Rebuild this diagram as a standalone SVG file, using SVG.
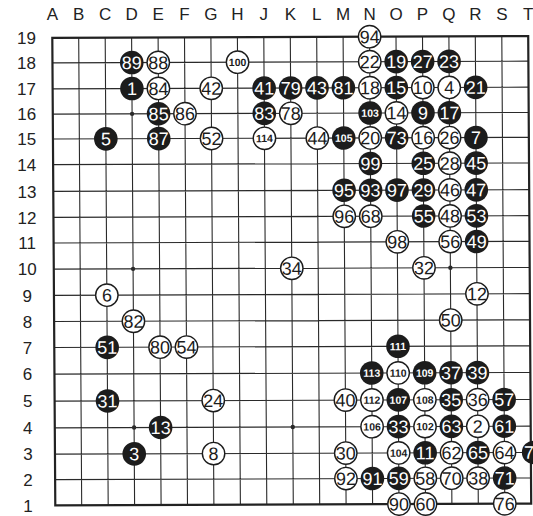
<svg xmlns="http://www.w3.org/2000/svg" width="533" height="516" viewBox="0 0 533 516">
<style>
text{font-family:"Liberation Sans",Arial,Helvetica,sans-serif}
.lbl{font-size:17px;fill:#222;text-anchor:middle}
.grid{stroke:#2a2a2a;stroke-width:1.1;fill:none}
.border{stroke:#222;stroke-width:2.2;fill:none}
.star{fill:#2a2a2a}
.b use{fill:#1c1c1c}
.b text{fill:#fff}
.w use{fill:#fff;stroke:#1c1c1c;stroke-width:1.4}
.w text{fill:#1c1c1c}
.n{font-size:18px;text-anchor:middle}
.n3{font-size:10.5px;font-weight:bold;text-anchor:middle}
</style>
<defs>
<circle id="bs" r="11.8"/>
<circle id="ws" r="11.2"/>
</defs>
<rect width="533" height="516" fill="#fff"/>
<g id="col-labels">
<text class="lbl" x="52.3" y="19.8">A</text>
<text class="lbl" x="78.7" y="19.8">B</text>
<text class="lbl" x="105.2" y="19.8">C</text>
<text class="lbl" x="131.6" y="19.8">D</text>
<text class="lbl" x="158.1" y="19.8">E</text>
<text class="lbl" x="184.5" y="19.8">F</text>
<text class="lbl" x="210.9" y="19.8">G</text>
<text class="lbl" x="237.4" y="19.8">H</text>
<text class="lbl" x="263.8" y="19.8">J</text>
<text class="lbl" x="290.3" y="19.8">K</text>
<text class="lbl" x="316.7" y="19.8">L</text>
<text class="lbl" x="343.1" y="19.8">M</text>
<text class="lbl" x="369.6" y="19.8">N</text>
<text class="lbl" x="396" y="19.8">O</text>
<text class="lbl" x="422.5" y="19.8">P</text>
<text class="lbl" x="448.9" y="19.8">Q</text>
<text class="lbl" x="475.3" y="19.8">R</text>
<text class="lbl" x="501.8" y="19.8">S</text>
<text class="lbl" x="528.2" y="19.8">T</text>
</g>
<g id="row-labels">
<text class="lbl" x="26.5" y="44">19</text>
<text class="lbl" x="26.5" y="69">18</text>
<text class="lbl" x="26.5" y="95">17</text>
<text class="lbl" x="26.7" y="120.3">16</text>
<text class="lbl" x="26.7" y="145.2">15</text>
<text class="lbl" x="26.8" y="170.8">14</text>
<text class="lbl" x="26.9" y="197.5">13</text>
<text class="lbl" x="27" y="223.5">12</text>
<text class="lbl" x="27.1" y="249.2">11</text>
<text class="lbl" x="27.2" y="275.3">10</text>
<text class="lbl" x="27.3" y="301.5">9</text>
<text class="lbl" x="27.4" y="327.7">8</text>
<text class="lbl" x="27.5" y="353.7">7</text>
<text class="lbl" x="27.6" y="380.3">6</text>
<text class="lbl" x="27.7" y="407.3">5</text>
<text class="lbl" x="27.8" y="434">4</text>
<text class="lbl" x="27.9" y="460.3">3</text>
<text class="lbl" x="28" y="485.8">2</text>
<text class="lbl" x="28.1" y="511.5">1</text>
</g>
<g id="board" transform="matrix(1,-0.0036,0.0064,1,-1.734,1.044)">
<g id="grid">
<path class="grid" d="M80.2 37V504.5M106.7 37V504.5M133.1 37V504.5M159.6 37V504.5M186 37V504.5M212.4 37V504.5M238.9 37V504.5M265.3 37V504.5M291.8 37V504.5M318.2 37V504.5M344.6 37V504.5M371.1 37V504.5M397.5 37V504.5M424 37V504.5M450.4 37V504.5M476.8 37V504.5M503.3 37V504.5M53.8 62H529.7M53.8 88H529.7M53.8 113.3H529.7M53.8 138.2H529.7M53.8 163.8H529.7M53.8 190.5H529.7M53.8 216.5H529.7M53.8 242.2H529.7M53.8 268.3H529.7M53.8 294.5H529.7M53.8 320.7H529.7M53.8 346.7H529.7M53.8 373.3H529.7M53.8 400.3H529.7M53.8 427H529.7M53.8 453.3H529.7M53.8 478.8H529.7"/>
<rect class="border" x="53.8" y="37" width="475.9" height="467.5"/>
<circle class="star" cx="133.1" cy="113.3" r="2.2"/>
<circle class="star" cx="133.1" cy="268.3" r="2.2"/>
<circle class="star" cx="133.1" cy="427" r="2.2"/>
<circle class="star" cx="450.4" cy="268.3" r="2.2"/>
<circle class="star" cx="291.8" cy="427" r="2.2"/>
</g>
<g id="connectors"/>
<g id="stones">
<g id="s94" class="w" transform="translate(371.1,37)"><use href="#ws"/><text class="n" y="6.4">94</text></g>
<g id="s89" class="b" transform="translate(133.1,62)"><use href="#bs"/><text class="n" y="6.4">89</text></g>
<g id="s88" class="w" transform="translate(159.6,62)"><use href="#ws"/><text class="n" y="6.4">88</text></g>
<g id="s100" class="w" transform="translate(238.9,62)"><use href="#ws"/><text class="n3" y="3.8">100</text></g>
<g id="s22" class="w" transform="translate(371.1,62)"><use href="#ws"/><text class="n" y="6.4">22</text></g>
<g id="s19" class="b" transform="translate(397.5,62)"><use href="#bs"/><text class="n" y="6.4">19</text></g>
<g id="s27" class="b" transform="translate(424,62)"><use href="#bs"/><text class="n" y="6.4">27</text></g>
<g id="s23" class="b" transform="translate(450.4,62)"><use href="#bs"/><text class="n" y="6.4">23</text></g>
<g id="s1" class="b" transform="translate(133.1,88)"><use href="#bs"/><text class="n" y="6.4">1</text></g>
<g id="s84" class="w" transform="translate(159.6,88)"><use href="#ws"/><text class="n" y="6.4">84</text></g>
<g id="s42" class="w" transform="translate(212.4,88)"><use href="#ws"/><text class="n" y="6.4">42</text></g>
<g id="s41" class="b" transform="translate(265.3,88)"><use href="#bs"/><text class="n" y="6.4">41</text></g>
<g id="s79" class="b" transform="translate(291.8,88)"><use href="#bs"/><text class="n" y="6.4">79</text></g>
<g id="s43" class="b" transform="translate(318.2,88)"><use href="#bs"/><text class="n" y="6.4">43</text></g>
<g id="s81" class="b" transform="translate(344.6,88)"><use href="#bs"/><text class="n" y="6.4">81</text></g>
<g id="s18" class="w" transform="translate(371.1,88)"><use href="#ws"/><text class="n" y="6.4">18</text></g>
<g id="s15" class="b" transform="translate(397.5,88)"><use href="#bs"/><text class="n" y="6.4">15</text></g>
<g id="s10" class="w" transform="translate(424,88)"><use href="#ws"/><text class="n" y="6.4">10</text></g>
<g id="s4" class="w" transform="translate(450.4,88)"><use href="#ws"/><text class="n" y="6.4">4</text></g>
<g id="s21" class="b" transform="translate(476.8,88)"><use href="#bs"/><text class="n" y="6.4">21</text></g>
<g id="s85" class="b" transform="translate(159.6,113.3)"><use href="#bs"/><text class="n" y="6.4">85</text></g>
<g id="s86" class="w" transform="translate(186,113.3)"><use href="#ws"/><text class="n" y="6.4">86</text></g>
<g id="s83" class="b" transform="translate(265.3,113.3)"><use href="#bs"/><text class="n" y="6.4">83</text></g>
<g id="s78" class="w" transform="translate(291.8,113.3)"><use href="#ws"/><text class="n" y="6.4">78</text></g>
<g id="s103" class="b" transform="translate(371.1,113.3)"><use href="#bs"/><text class="n3" y="3.8">103</text></g>
<g id="s14" class="w" transform="translate(397.5,113.3)"><use href="#ws"/><text class="n" y="6.4">14</text></g>
<g id="s9" class="b" transform="translate(424,113.3)"><use href="#bs"/><text class="n" y="6.4">9</text></g>
<g id="s17" class="b" transform="translate(450.4,113.3)"><use href="#bs"/><text class="n" y="6.4">17</text></g>
<g id="s5" class="b" transform="translate(106.7,138.2)"><use href="#bs"/><text class="n" y="6.4">5</text></g>
<g id="s87" class="b" transform="translate(159.6,138.2)"><use href="#bs"/><text class="n" y="6.4">87</text></g>
<g id="s52" class="w" transform="translate(212.4,138.2)"><use href="#ws"/><text class="n" y="6.4">52</text></g>
<g id="s114" class="w" transform="translate(265.3,138.2)"><use href="#ws"/><text class="n3" y="3.8">114</text></g>
<g id="s44" class="w" transform="translate(318.2,138.2)"><use href="#ws"/><text class="n" y="6.4">44</text></g>
<g id="s105" class="b" transform="translate(344.6,138.2)"><use href="#bs"/><text class="n3" y="3.8">105</text></g>
<g id="s20" class="w" transform="translate(371.1,138.2)"><use href="#ws"/><text class="n" y="6.4">20</text></g>
<g id="s73" class="b" transform="translate(397.5,138.2)"><use href="#bs"/><text class="n" y="6.4">73</text></g>
<g id="s16" class="w" transform="translate(424,138.2)"><use href="#ws"/><text class="n" y="6.4">16</text></g>
<g id="s26" class="w" transform="translate(450.4,138.2)"><use href="#ws"/><text class="n" y="6.4">26</text></g>
<g id="s7" class="b" transform="translate(476.8,138.2)"><use href="#bs"/><text class="n" y="6.4">7</text></g>
<g id="s99" class="b" transform="translate(371.1,163.8)"><use href="#bs"/><text class="n" y="6.4">99</text></g>
<g id="s25" class="b" transform="translate(424,163.8)"><use href="#bs"/><text class="n" y="6.4">25</text></g>
<g id="s28" class="w" transform="translate(450.4,163.8)"><use href="#ws"/><text class="n" y="6.4">28</text></g>
<g id="s45" class="b" transform="translate(476.8,163.8)"><use href="#bs"/><text class="n" y="6.4">45</text></g>
<g id="s95" class="b" transform="translate(344.6,190.5)"><use href="#bs"/><text class="n" y="6.4">95</text></g>
<g id="s93" class="b" transform="translate(371.1,190.5)"><use href="#bs"/><text class="n" y="6.4">93</text></g>
<g id="s97" class="b" transform="translate(397.5,190.5)"><use href="#bs"/><text class="n" y="6.4">97</text></g>
<g id="s29" class="b" transform="translate(424,190.5)"><use href="#bs"/><text class="n" y="6.4">29</text></g>
<g id="s46" class="w" transform="translate(450.4,190.5)"><use href="#ws"/><text class="n" y="6.4">46</text></g>
<g id="s47" class="b" transform="translate(476.8,190.5)"><use href="#bs"/><text class="n" y="6.4">47</text></g>
<g id="s96" class="w" transform="translate(344.6,216.5)"><use href="#ws"/><text class="n" y="6.4">96</text></g>
<g id="s68" class="w" transform="translate(371.1,216.5)"><use href="#ws"/><text class="n" y="6.4">68</text></g>
<g id="s55" class="b" transform="translate(424,216.5)"><use href="#bs"/><text class="n" y="6.4">55</text></g>
<g id="s48" class="w" transform="translate(450.4,216.5)"><use href="#ws"/><text class="n" y="6.4">48</text></g>
<g id="s53" class="b" transform="translate(476.8,216.5)"><use href="#bs"/><text class="n" y="6.4">53</text></g>
<g id="s98" class="w" transform="translate(397.5,242.2)"><use href="#ws"/><text class="n" y="6.4">98</text></g>
<g id="s56" class="w" transform="translate(450.4,242.2)"><use href="#ws"/><text class="n" y="6.4">56</text></g>
<g id="s49" class="b" transform="translate(476.8,242.2)"><use href="#bs"/><text class="n" y="6.4">49</text></g>
<g id="s34" class="w" transform="translate(291.8,268.3)"><use href="#ws"/><text class="n" y="6.4">34</text></g>
<g id="s32" class="w" transform="translate(424,268.3)"><use href="#ws"/><text class="n" y="6.4">32</text></g>
<g id="s6" class="w" transform="translate(106.7,294.5)"><use href="#ws"/><text class="n" y="6.4">6</text></g>
<g id="s12" class="w" transform="translate(476.8,294.5)"><use href="#ws"/><text class="n" y="6.4">12</text></g>
<g id="s82" class="w" transform="translate(133.1,320.7)"><use href="#ws"/><text class="n" y="6.4">82</text></g>
<g id="s50" class="w" transform="translate(450.4,320.7)"><use href="#ws"/><text class="n" y="6.4">50</text></g>
<g id="s51" class="b" transform="translate(106.7,346.7)"><use href="#bs"/><text class="n" y="6.4">51</text></g>
<g id="s80" class="w" transform="translate(159.6,346.7)"><use href="#ws"/><text class="n" y="6.4">80</text></g>
<g id="s54" class="w" transform="translate(186,346.7)"><use href="#ws"/><text class="n" y="6.4">54</text></g>
<g id="s111" class="b" transform="translate(397.5,346.7)"><use href="#bs"/><text class="n3" y="3.8">111</text></g>
<g id="s113" class="b" transform="translate(371.1,373.3)"><use href="#bs"/><text class="n3" y="3.8">113</text></g>
<g id="s110" class="w" transform="translate(397.5,373.3)"><use href="#ws"/><text class="n3" y="3.8">110</text></g>
<g id="s109" class="b" transform="translate(424,373.3)"><use href="#bs"/><text class="n3" y="3.8">109</text></g>
<g id="s37" class="b" transform="translate(450.4,373.3)"><use href="#bs"/><text class="n" y="6.4">37</text></g>
<g id="s39" class="b" transform="translate(476.8,373.3)"><use href="#bs"/><text class="n" y="6.4">39</text></g>
<g id="s31" class="b" transform="translate(106.7,400.3)"><use href="#bs"/><text class="n" y="6.4">31</text></g>
<g id="s24" class="w" transform="translate(212.4,400.3)"><use href="#ws"/><text class="n" y="6.4">24</text></g>
<g id="s40" class="w" transform="translate(344.6,400.3)"><use href="#ws"/><text class="n" y="6.4">40</text></g>
<g id="s112" class="w" transform="translate(371.1,400.3)"><use href="#ws"/><text class="n3" y="3.8">112</text></g>
<g id="s107" class="b" transform="translate(397.5,400.3)"><use href="#bs"/><text class="n3" y="3.8">107</text></g>
<g id="s108" class="w" transform="translate(424,400.3)"><use href="#ws"/><text class="n3" y="3.8">108</text></g>
<g id="s35" class="b" transform="translate(450.4,400.3)"><use href="#bs"/><text class="n" y="6.4">35</text></g>
<g id="s36" class="w" transform="translate(476.8,400.3)"><use href="#ws"/><text class="n" y="6.4">36</text></g>
<g id="s57" class="b" transform="translate(503.3,400.3)"><use href="#bs"/><text class="n" y="6.4">57</text></g>
<g id="s13" class="b" transform="translate(159.6,427)"><use href="#bs"/><text class="n" y="6.4">13</text></g>
<g id="s106" class="w" transform="translate(371.1,427)"><use href="#ws"/><text class="n3" y="3.8">106</text></g>
<g id="s33" class="b" transform="translate(397.5,427)"><use href="#bs"/><text class="n" y="6.4">33</text></g>
<g id="s102" class="w" transform="translate(424,427)"><use href="#ws"/><text class="n3" y="3.8">102</text></g>
<g id="s63" class="b" transform="translate(450.4,427)"><use href="#bs"/><text class="n" y="6.4">63</text></g>
<g id="s2" class="w" transform="translate(476.8,427)"><use href="#ws"/><text class="n" y="6.4">2</text></g>
<g id="s61" class="b" transform="translate(503.3,427)"><use href="#bs"/><text class="n" y="6.4">61</text></g>
<g id="s3" class="b" transform="translate(133.1,453.3)"><use href="#bs"/><text class="n" y="6.4">3</text></g>
<g id="s8" class="w" transform="translate(212.4,453.3)"><use href="#ws"/><text class="n" y="6.4">8</text></g>
<g id="s30" class="w" transform="translate(344.6,453.3)"><use href="#ws"/><text class="n" y="6.4">30</text></g>
<g id="s104" class="w" transform="translate(397.5,453.3)"><use href="#ws"/><text class="n3" y="3.8">104</text></g>
<g id="s11" class="b" transform="translate(424,453.3)"><use href="#bs"/><text class="n" y="6.4">11</text></g>
<g id="s62" class="w" transform="translate(450.4,453.3)"><use href="#ws"/><text class="n" y="6.4">62</text></g>
<g id="s65" class="b" transform="translate(476.8,453.3)"><use href="#bs"/><text class="n" y="6.4">65</text></g>
<g id="s64" class="w" transform="translate(503.3,453.3)"><use href="#ws"/><text class="n" y="6.4">64</text></g>
<g id="sT3" class="b" transform="translate(532.5,453.3)"><use href="#bs"/><text class="n" x="-4.7" y="6.4">7</text></g>
<g id="s92" class="w" transform="translate(344.6,478.8)"><use href="#ws"/><text class="n" y="6.4">92</text></g>
<g id="s91" class="b" transform="translate(371.1,478.8)"><use href="#bs"/><text class="n" y="6.4">91</text></g>
<g id="s59" class="b" transform="translate(397.5,478.8)"><use href="#bs"/><text class="n" y="6.4">59</text></g>
<g id="s58" class="w" transform="translate(424,478.8)"><use href="#ws"/><text class="n" y="6.4">58</text></g>
<g id="s70" class="w" transform="translate(450.4,478.8)"><use href="#ws"/><text class="n" y="6.4">70</text></g>
<g id="s38" class="w" transform="translate(476.8,478.8)"><use href="#ws"/><text class="n" y="6.4">38</text></g>
<g id="s71" class="b" transform="translate(503.3,478.8)"><use href="#bs"/><text class="n" y="6.4">71</text></g>
<g id="s90" class="w" transform="translate(397.5,504.5)"><use href="#ws"/><text class="n" y="6.4">90</text></g>
<g id="s60" class="w" transform="translate(424,504.5)"><use href="#ws"/><text class="n" y="6.4">60</text></g>
<g id="s76" class="w" transform="translate(503.3,504.5)"><use href="#ws"/><text class="n" y="6.4">76</text></g>
</g>
</g>
</svg>
